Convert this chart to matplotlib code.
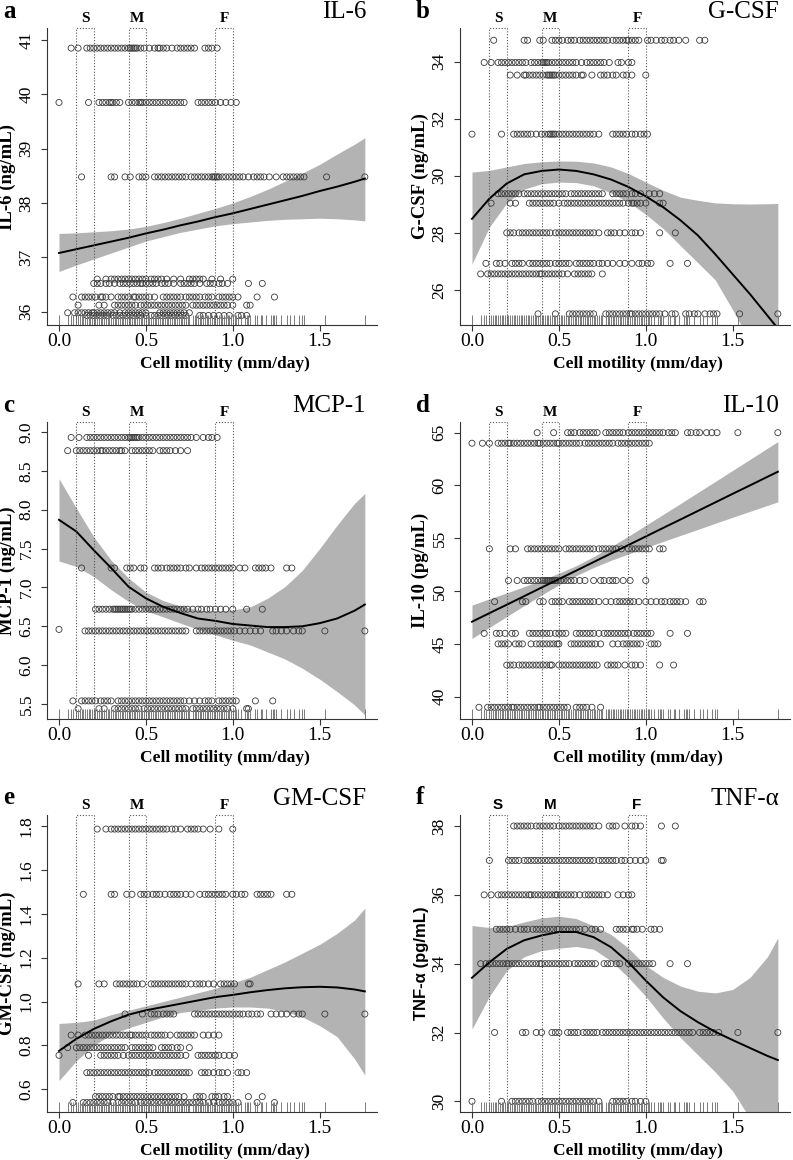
import numpy as np
import matplotlib
matplotlib.use('Agg')
import matplotlib.pyplot as plt
import matplotlib.transforms as mtransforms

plt.rcParams['font.family'] = ['Liberation Serif', 'DejaVu Serif']

# measured cell motility values (rug marks along the x axis)
motility = [0.00, 0.05, 0.07, 0.08, 0.10, 0.11, 0.12, 0.13, 0.14, 0.15, 0.16, 0.17, 0.18, 0.19,
            0.20, 0.21, 0.22, 0.23, 0.24, 0.25, 0.26, 0.27, 0.28, 0.29, 0.30, 0.31, 0.32, 0.33,
            0.34, 0.35, 0.36, 0.37, 0.38, 0.39, 0.40, 0.41, 0.42, 0.43, 0.44, 0.45, 0.46, 0.47,
            0.48, 0.49, 0.50, 0.51, 0.52, 0.53, 0.54, 0.55, 0.56, 0.57, 0.58, 0.59, 0.60, 0.61,
            0.62, 0.63, 0.64, 0.65, 0.66, 0.67, 0.68, 0.69, 0.70, 0.71, 0.72, 0.73, 0.74, 0.75,
            0.77, 0.78, 0.79, 0.80, 0.81, 0.82, 0.83, 0.84, 0.85, 0.86, 0.87, 0.88, 0.89, 0.90,
            0.91, 0.92, 0.93, 0.94, 0.95, 0.96, 0.97, 0.98, 0.99, 1.00, 1.01, 1.02, 1.03, 1.05,
            1.07, 1.08, 1.09, 1.10, 1.13, 1.14, 1.16, 1.17, 1.19, 1.22, 1.23, 1.24, 1.25, 1.28,
            1.31, 1.33, 1.35, 1.38, 1.40, 1.41, 1.53, 1.76]

# x positions where the fitted curve and its confidence band were read
fit_x = [0.0, 0.1, 0.2, 0.3, 0.4, 0.5, 0.6, 0.7, 0.8, 0.9, 1.0, 1.1, 1.2, 1.3, 1.4, 1.5, 1.6, 1.7, 1.76]

# motility groups: slow, medium, fast
groups = ['S', 'M', 'F']
group_lo = [0.1, 0.4, 0.9]
group_hi = [0.2, 0.5, 1.0]

# ---- a: IL-6
il6_levels = [40.85, 39.85, 38.48, 36.60, 36.52, 36.27, 36.12, 35.98, 35.93]
il6_x = [
    [0.07, 0.11, 0.16, 0.18, 0.20, 0.22, 0.24, 0.26, 0.28, 0.30, 0.32, 0.34, 0.36, 0.38, 0.40, 0.41,
     0.42, 0.43, 0.44, 0.45, 0.47, 0.49, 0.52, 0.55, 0.57, 0.58, 0.60, 0.62, 0.65, 0.68, 0.70, 0.72,
     0.74, 0.76, 0.78, 0.84, 0.86, 0.88, 0.91],
    [0.00, 0.17, 0.23, 0.25, 0.27, 0.29, 0.30, 0.31, 0.33, 0.35, 0.40, 0.42, 0.44, 0.46, 0.47, 0.48,
     0.50, 0.52, 0.54, 0.56, 0.58, 0.60, 0.62, 0.64, 0.66, 0.68, 0.70, 0.72, 0.80, 0.82, 0.84, 0.86,
     0.88, 0.90, 0.93, 0.96, 0.99, 1.02],
    [0.13, 0.30, 0.32, 0.38, 0.41, 0.46, 0.48, 0.50, 0.55, 0.57, 0.59, 0.61, 0.63, 0.65, 0.67, 0.69,
     0.71, 0.73, 0.76, 0.78, 0.80, 0.82, 0.84, 0.86, 0.88, 0.89, 0.90, 0.91, 0.92, 0.94, 0.96, 0.98,
     1.00, 1.02, 1.04, 1.06, 1.09, 1.12, 1.14, 1.16, 1.18, 1.21, 1.25, 1.29, 1.31, 1.33, 1.35, 1.37,
     1.39, 1.41, 1.54, 1.76],
    [0.22, 0.27, 0.30, 0.32, 0.34, 0.36, 0.38, 0.40, 0.42, 0.44, 0.46, 0.48, 0.50, 0.53, 0.55, 0.57,
     0.59, 0.62, 0.66, 0.70, 0.75, 0.77, 0.79, 0.81, 0.83, 0.88, 0.93, 1.00],
    [0.20, 0.22, 0.24, 0.27, 0.29, 0.32, 0.35, 0.37, 0.39, 0.41, 0.43, 0.45, 0.47, 0.48, 0.50, 0.52,
     0.54, 0.56, 0.59, 0.61, 0.63, 0.66, 0.70, 0.72, 0.74, 0.76, 0.78, 0.81, 0.85, 0.87, 0.89, 0.92,
     0.94, 0.97, 1.09, 1.17],
    [0.08, 0.13, 0.15, 0.17, 0.19, 0.21, 0.24, 0.25, 0.27, 0.30, 0.34, 0.36, 0.38, 0.40, 0.43, 0.44,
     0.46, 0.48, 0.50, 0.52, 0.55, 0.60, 0.62, 0.64, 0.66, 0.68, 0.70, 0.73, 0.75, 0.77, 0.79, 0.81,
     0.84, 0.86, 0.88, 0.92, 0.94, 0.96, 0.98, 1.00, 1.03, 1.14, 1.24],
    [0.11, 0.23, 0.26, 0.32, 0.34, 0.36, 0.38, 0.40, 0.42, 0.44, 0.47, 0.49, 0.51, 0.53, 0.55, 0.57,
     0.59, 0.61, 0.63, 0.65, 0.67, 0.69, 0.71, 0.73, 0.77, 0.79, 0.81, 0.83, 0.85, 0.87, 0.89, 0.91,
     0.93, 0.95, 0.97, 1.00, 1.08, 1.10],
    [0.05, 0.09, 0.11, 0.13, 0.15, 0.17, 0.19, 0.20, 0.22, 0.24, 0.26, 0.28, 0.30, 0.32, 0.35, 0.38,
     0.40, 0.42, 0.44, 0.46, 0.48, 0.50, 0.58, 0.60, 0.62, 0.64, 0.66, 0.68, 0.70, 0.72, 0.75],
    [0.16, 0.18, 0.20, 0.22, 0.24, 0.26, 0.28, 0.31, 0.33, 0.35, 0.37, 0.39, 0.41, 0.43, 0.45, 0.47,
     0.50, 0.53, 0.55, 0.57, 0.59, 0.61, 0.63, 0.65, 0.67, 0.69, 0.71, 0.73, 0.81, 0.83, 0.86, 0.89,
     0.92, 0.95, 0.98, 1.03, 1.05, 1.08],
]
il6_fit = [37.08, 37.15, 37.22, 37.29, 37.36, 37.44, 37.51, 37.59, 37.66, 37.74, 37.81, 37.89, 37.97,
           38.05, 38.13, 38.22, 38.30, 38.39, 38.45]
il6_hi = [37.44, 37.45, 37.47, 37.49, 37.52, 37.57, 37.64, 37.72, 37.81, 37.90, 38.00, 38.12, 38.25,
          38.40, 38.55, 38.71, 38.90, 39.08, 39.20]
il6_lo = [36.74, 36.86, 36.97, 37.08, 37.19, 37.30, 37.38, 37.46, 37.52, 37.58, 37.62, 37.65, 37.68,
          37.70, 37.71, 37.72, 37.71, 37.69, 37.67]

# ---- b: G-CSF
gcsf_levels = [34.75, 33.97, 33.53, 31.46, 29.37, 29.04, 28.0, 26.93, 26.56, 25.16]
gcsf_x = [
    [0.125, 0.30, 0.32, 0.39, 0.41, 0.46, 0.48, 0.50, 0.52, 0.55, 0.57, 0.59, 0.62, 0.64, 0.66, 0.68,
     0.70, 0.72, 0.74, 0.76, 0.78, 0.81, 0.83, 0.85, 0.87, 0.89, 0.90, 0.92, 0.94, 0.96, 1.01, 1.03,
     1.06, 1.09, 1.11, 1.14, 1.16, 1.19, 1.23, 1.31, 1.34],
    [0.07, 0.11, 0.15, 0.17, 0.19, 0.21, 0.23, 0.25, 0.27, 0.29, 0.31, 0.34, 0.36, 0.38, 0.40, 0.41,
     0.42, 0.43, 0.44, 0.46, 0.48, 0.50, 0.52, 0.54, 0.56, 0.58, 0.60, 0.63, 0.66, 0.68, 0.70, 0.72,
     0.74, 0.76, 0.79, 0.84, 0.86, 0.90, 0.92],
    [0.22, 0.26, 0.30, 0.31, 0.33, 0.35, 0.37, 0.39, 0.41, 0.43, 0.44, 0.45, 0.46, 0.47, 0.48, 0.50,
     0.52, 0.54, 0.56, 0.58, 0.60, 0.63, 0.64, 0.69, 0.74, 0.76, 0.78, 0.81, 0.83, 0.87, 0.89, 0.92,
     1.00],
    [0.00, 0.17, 0.24, 0.26, 0.28, 0.30, 0.32, 0.34, 0.37, 0.40, 0.42, 0.44, 0.45, 0.46, 0.47, 0.48,
     0.50, 0.52, 0.54, 0.56, 0.58, 0.60, 0.62, 0.64, 0.66, 0.68, 0.70, 0.73, 0.81, 0.83, 0.85, 0.87,
     0.89, 0.92, 0.94, 0.97, 0.99, 1.01],
    [0.15, 0.17, 0.19, 0.21, 0.23, 0.25, 0.27, 0.30, 0.32, 0.34, 0.36, 0.38, 0.40, 0.42, 0.44, 0.46,
     0.48, 0.50, 0.52, 0.54, 0.57, 0.59, 0.61, 0.63, 0.65, 0.67, 0.69, 0.71, 0.73, 0.75, 0.81, 0.83,
     0.85, 0.87, 0.89, 0.92, 0.94, 0.97, 1.02, 1.05, 1.08],
    [0.11, 0.22, 0.25, 0.33, 0.35, 0.37, 0.39, 0.41, 0.43, 0.45, 0.47, 0.50, 0.53, 0.55, 0.57, 0.59,
     0.61, 0.63, 0.65, 0.67, 0.69, 0.71, 0.73, 0.75, 0.77, 0.79, 0.81, 0.83, 0.85, 0.87, 0.90, 0.92,
     0.93, 0.95, 0.97, 1.00, 1.08, 1.10],
    [0.20, 0.22, 0.24, 0.27, 0.29, 0.31, 0.33, 0.35, 0.37, 0.39, 0.41, 0.43, 0.45, 0.48, 0.50, 0.52,
     0.54, 0.56, 0.58, 0.60, 0.62, 0.64, 0.66, 0.68, 0.70, 0.73, 0.78, 0.80, 0.82, 0.85, 0.88, 0.92,
     0.94, 0.97, 1.08, 1.17],
    [0.08, 0.14, 0.16, 0.19, 0.23, 0.25, 0.27, 0.29, 0.33, 0.35, 0.37, 0.39, 0.41, 0.43, 0.45, 0.48,
     0.50, 0.52, 0.54, 0.56, 0.60, 0.62, 0.64, 0.66, 0.68, 0.70, 0.73, 0.75, 0.78, 0.81, 0.85, 0.88,
     0.92, 0.96, 0.98, 1.01, 1.03, 1.14, 1.24],
    [0.05, 0.09, 0.11, 0.13, 0.15, 0.17, 0.19, 0.21, 0.23, 0.25, 0.27, 0.29, 0.31, 0.33, 0.35, 0.37,
     0.39, 0.40, 0.42, 0.44, 0.46, 0.48, 0.50, 0.52, 0.55, 0.59, 0.61, 0.63, 0.65, 0.67, 0.69, 0.75],
    [0.38, 0.48, 0.56, 0.58, 0.60, 0.62, 0.64, 0.66, 0.68, 0.70, 0.77, 0.79, 0.81, 0.83, 0.85, 0.87,
     0.89, 0.91, 0.92, 0.94, 0.96, 0.98, 1.00, 1.02, 1.04, 1.06, 1.08, 1.11, 1.15, 1.17, 1.23, 1.25,
     1.28, 1.30, 1.34, 1.37, 1.39, 1.41, 1.54, 1.76],
]
gcsf_fit = [28.49, 29.20, 29.73, 30.05, 30.17, 30.22, 30.17, 30.05, 29.87, 29.61, 29.28, 28.90, 28.44,
            27.91, 27.25, 26.55, 25.85, 25.10, 24.65]
gcsf_hi = [30.13, 30.19, 30.31, 30.43, 30.49, 30.52, 30.51, 30.45, 30.31, 30.08, 29.78, 29.49, 29.25,
           29.14, 29.05, 29.02, 29.01, 29.02, 29.03]
gcsf_lo = [26.91, 28.20, 29.04, 29.53, 29.72, 29.78, 29.76, 29.65, 29.40, 29.08, 28.65, 28.15, 27.55,
           26.95, 26.35, 25.30, 24.20, 23.00, 22.20]

# ---- c: MCP-1
mcp1_levels = [8.93, 8.76, 7.25, 6.72, 6.46, 6.44, 5.54, 5.44]
mcp1_x = [
    [0.07, 0.115, 0.16, 0.18, 0.20, 0.22, 0.24, 0.26, 0.28, 0.30, 0.32, 0.34, 0.36, 0.38, 0.40, 0.41,
     0.42, 0.43, 0.44, 0.45, 0.46, 0.48, 0.50, 0.52, 0.54, 0.56, 0.58, 0.60, 0.62, 0.64, 0.66, 0.68,
     0.70, 0.72, 0.74, 0.76, 0.79, 0.83, 0.86, 0.88, 0.91],
    [0.05, 0.10, 0.12, 0.14, 0.16, 0.18, 0.20, 0.22, 0.24, 0.25, 0.27, 0.29, 0.31, 0.33, 0.35, 0.36,
     0.38, 0.42, 0.44, 0.46, 0.48, 0.50, 0.52, 0.54, 0.58, 0.60, 0.62, 0.64, 0.67, 0.70, 0.74],
    [0.13, 0.30, 0.32, 0.39, 0.41, 0.43, 0.47, 0.49, 0.55, 0.57, 0.59, 0.62, 0.64, 0.66, 0.68, 0.70,
     0.73, 0.75, 0.79, 0.82, 0.84, 0.86, 0.88, 0.90, 0.92, 0.94, 0.96, 0.98, 1.00, 1.04, 1.07, 1.13,
     1.15, 1.17, 1.19, 1.22, 1.31, 1.34],
    [0.21, 0.23, 0.25, 0.27, 0.29, 0.31, 0.32, 0.33, 0.34, 0.35, 0.36, 0.37, 0.38, 0.39, 0.40, 0.41,
     0.42, 0.44, 0.46, 0.48, 0.50, 0.52, 0.54, 0.56, 0.58, 0.60, 0.62, 0.64, 0.66, 0.68, 0.70, 0.72,
     0.74, 0.77, 0.80, 0.82, 0.85, 0.87, 0.90, 0.93, 0.96, 1.00, 1.08, 1.17],
    [0.00],
    [0.15, 0.17, 0.19, 0.21, 0.23, 0.25, 0.27, 0.29, 0.31, 0.33, 0.35, 0.37, 0.39, 0.41, 0.43, 0.45,
     0.47, 0.49, 0.51, 0.53, 0.55, 0.57, 0.59, 0.61, 0.63, 0.65, 0.67, 0.69, 0.71, 0.73, 0.79, 0.81,
     0.83, 0.85, 0.87, 0.89, 0.91, 0.93, 0.95, 0.97, 0.99, 1.01, 1.04, 1.07, 1.10, 1.13, 1.16, 1.23,
     1.25, 1.28, 1.31, 1.35, 1.38, 1.40, 1.53, 1.76],
    [0.08, 0.13, 0.15, 0.17, 0.19, 0.21, 0.24, 0.26, 0.28, 0.30, 0.34, 0.36, 0.38, 0.40, 0.42, 0.44,
     0.46, 0.48, 0.50, 0.52, 0.54, 0.56, 0.58, 0.60, 0.62, 0.64, 0.66, 0.68, 0.70, 0.72, 0.75, 0.78,
     0.81, 0.84, 0.86, 0.88, 0.92, 0.94, 0.96, 0.98, 1.00, 1.02, 1.13, 1.23],
    [0.11, 0.23, 0.26, 0.32, 0.34, 0.36, 0.38, 0.40, 0.42, 0.44, 0.46, 0.49, 0.51, 0.53, 0.55, 0.57,
     0.59, 0.61, 0.63, 0.65, 0.67, 0.69, 0.71, 0.73, 0.77, 0.79, 0.81, 0.83, 0.85, 0.87, 0.89, 0.91,
     0.93, 0.95, 0.97, 1.00, 1.08, 1.09],
]
mcp1_fit = [7.87, 7.72, 7.48, 7.25, 7.01, 6.86, 6.75, 6.67, 6.60, 6.57, 6.53, 6.51, 6.49, 6.49, 6.50,
            6.54, 6.60, 6.70, 6.78]
mcp1_hi = [8.40, 8.02, 7.65, 7.35, 7.12, 6.94, 6.83, 6.76, 6.71, 6.69, 6.71, 6.75, 6.86, 7.01, 7.22,
           7.50, 7.80, 8.08, 8.21]
mcp1_lo = [7.34, 7.27, 7.14, 6.97, 6.82, 6.70, 6.62, 6.54, 6.46, 6.39, 6.32, 6.26, 6.17, 6.08, 5.96,
           5.82, 5.66, 5.49, 5.36]

# ---- d: IL-10
il10_levels = [65, 64, 54, 51, 49, 46, 45, 43, 39]
il10_x = [
    [0.375, 0.47, 0.55, 0.57, 0.59, 0.62, 0.64, 0.66, 0.68, 0.70, 0.72, 0.77, 0.79, 0.81, 0.83, 0.85,
     0.87, 0.90, 0.92, 0.94, 0.96, 0.98, 1.00, 1.02, 1.04, 1.06, 1.08, 1.10, 1.13, 1.15, 1.17, 1.24,
     1.26, 1.29, 1.31, 1.35, 1.38, 1.41, 1.53, 1.76],
    [0.00, 0.06, 0.10, 0.15, 0.17, 0.19, 0.21, 0.22, 0.24, 0.26, 0.28, 0.30, 0.32, 0.34, 0.36, 0.38,
     0.39, 0.41, 0.43, 0.45, 0.47, 0.49, 0.50, 0.52, 0.54, 0.56, 0.58, 0.60, 0.62, 0.65, 0.67, 0.69,
     0.71, 0.73, 0.75, 0.77, 0.79, 0.81, 0.84, 0.86, 0.88, 0.90, 0.92, 0.94, 0.96, 0.98, 1.00, 1.02],
    [0.10, 0.22, 0.25, 0.32, 0.34, 0.36, 0.38, 0.40, 0.42, 0.44, 0.46, 0.48, 0.50, 0.54, 0.56, 0.58,
     0.60, 0.62, 0.64, 0.66, 0.68, 0.70, 0.73, 0.75, 0.77, 0.79, 0.81, 0.83, 0.86, 0.90, 0.92, 0.94,
     0.96, 0.98, 1.00, 1.02, 1.08, 1.10],
    [0.21, 0.26, 0.30, 0.32, 0.34, 0.36, 0.38, 0.40, 0.41, 0.42, 0.43, 0.44, 0.45, 0.46, 0.47, 0.48,
     0.49, 0.51, 0.53, 0.55, 0.57, 0.59, 0.62, 0.65, 0.70, 0.74, 0.76, 0.79, 0.81, 0.83, 0.87, 0.91,
     1.00],
    [0.13, 0.29, 0.31, 0.39, 0.41, 0.46, 0.48, 0.50, 0.52, 0.56, 0.58, 0.60, 0.62, 0.64, 0.66, 0.68,
     0.70, 0.73, 0.77, 0.80, 0.83, 0.85, 0.87, 0.89, 0.91, 0.93, 0.96, 1.00, 1.03, 1.06, 1.09, 1.11,
     1.14, 1.16, 1.18, 1.20, 1.23, 1.31, 1.33],
    [0.07, 0.14, 0.16, 0.19, 0.23, 0.25, 0.33, 0.35, 0.37, 0.39, 0.41, 0.43, 0.45, 0.48, 0.50, 0.52,
     0.54, 0.60, 0.62, 0.64, 0.66, 0.68, 0.70, 0.73, 0.76, 0.78, 0.80, 0.82, 0.84, 0.86, 0.88, 0.90,
     0.93, 0.95, 0.97, 0.99, 1.01, 1.03, 1.14, 1.24],
    [0.15, 0.17, 0.19, 0.21, 0.25, 0.27, 0.29, 0.34, 0.37, 0.39, 0.41, 0.43, 0.45, 0.47, 0.49, 0.50,
     0.57, 0.59, 0.61, 0.63, 0.65, 0.67, 0.69, 0.71, 0.74, 0.81, 0.84, 0.87, 0.89, 0.91, 0.93, 0.95,
     0.97, 1.03, 1.05, 1.07],
    [0.20, 0.22, 0.24, 0.27, 0.29, 0.31, 0.33, 0.35, 0.37, 0.39, 0.41, 0.43, 0.45, 0.46, 0.50, 0.52,
     0.54, 0.56, 0.58, 0.60, 0.62, 0.64, 0.66, 0.68, 0.70, 0.72, 0.78, 0.80, 0.82, 0.84, 0.88, 0.92,
     0.94, 0.97, 1.08, 1.16],
    [0.04, 0.09, 0.11, 0.13, 0.15, 0.17, 0.19, 0.21, 0.23, 0.24, 0.26, 0.28, 0.30, 0.32, 0.34, 0.36,
     0.38, 0.39, 0.41, 0.43, 0.45, 0.47, 0.49, 0.51, 0.53, 0.55, 0.60, 0.62, 0.64, 0.66, 0.69, 0.74],
]
il10_fit = [47.10, 47.91, 48.71, 49.52, 50.33, 51.14, 51.94, 52.75, 53.56, 54.36, 55.17, 55.98, 56.78,
            57.59, 58.40, 59.21, 60.01, 60.82, 61.30]
il10_hi = [48.68, 49.26, 49.83, 50.42, 51.04, 51.69, 52.41, 53.26, 54.21, 55.20, 56.23, 57.26, 58.29,
           59.34, 60.38, 61.43, 62.47, 63.53, 64.15]
il10_lo = [45.52, 46.56, 47.59, 48.62, 49.62, 50.59, 51.47, 52.24, 52.91, 53.52, 54.11, 54.70, 55.27,
           55.84, 56.42, 56.99, 57.55, 58.11, 58.45]

# ---- e: GM-CSF
gmcsf_levels = [1.785, 1.488, 1.08, 0.943, 0.847, 0.79, 0.755, 0.676, 0.567, 0.54]
gmcsf_x = [
    [0.22, 0.27, 0.30, 0.32, 0.34, 0.36, 0.38, 0.40, 0.42, 0.44, 0.46, 0.48, 0.50, 0.52, 0.54, 0.56,
     0.58, 0.60, 0.62, 0.65, 0.67, 0.70, 0.74, 0.76, 0.78, 0.80, 0.83, 0.87, 0.92, 1.00],
    [0.14, 0.30, 0.32, 0.39, 0.42, 0.47, 0.49, 0.51, 0.54, 0.56, 0.58, 0.61, 0.64, 0.66, 0.68, 0.70,
     0.73, 0.76, 0.81, 0.84, 0.86, 0.88, 0.90, 0.92, 0.94, 0.96, 1.00, 1.02, 1.05, 1.07, 1.14, 1.16,
     1.18, 1.20, 1.22, 1.31, 1.34],
    [0.11, 0.23, 0.26, 0.33, 0.35, 0.37, 0.39, 0.41, 0.43, 0.45, 0.48, 0.53, 0.55, 0.57, 0.59, 0.61,
     0.63, 0.65, 0.67, 0.69, 0.71, 0.73, 0.76, 0.79, 0.81, 0.83, 0.86, 0.89, 0.93, 0.95, 0.97, 0.99,
     1.01, 1.09, 1.10],
    [0.38, 0.48, 0.53, 0.55, 0.57, 0.60, 0.62, 0.64, 0.66, 0.78, 0.80, 0.82, 0.84, 0.86, 0.88, 0.90,
     0.92, 0.94, 0.96, 0.98, 1.00, 1.02, 1.04, 1.06, 1.09, 1.11, 1.14, 1.16, 1.22, 1.25, 1.28, 1.31,
     1.35, 1.38, 1.40, 1.53, 1.76],
    [0.07, 0.11, 0.15, 0.17, 0.19, 0.21, 0.23, 0.25, 0.27, 0.29, 0.31, 0.33, 0.35, 0.37, 0.39, 0.41,
     0.42, 0.44, 0.46, 0.48, 0.50, 0.53, 0.55, 0.57, 0.59, 0.61, 0.64, 0.68, 0.70, 0.72, 0.74, 0.76,
     0.78, 0.83, 0.86, 0.89, 0.92],
    [0.05, 0.10, 0.12, 0.14, 0.16, 0.18, 0.20, 0.22, 0.24, 0.26, 0.28, 0.30, 0.32, 0.34, 0.36, 0.38,
     0.42, 0.44, 0.46, 0.48, 0.50, 0.52, 0.54, 0.59, 0.61, 0.63, 0.65, 0.68, 0.70, 0.75],
    [0.00, 0.17, 0.24, 0.26, 0.28, 0.30, 0.32, 0.34, 0.37, 0.40, 0.42, 0.44, 0.46, 0.48, 0.50, 0.52,
     0.54, 0.56, 0.58, 0.60, 0.62, 0.64, 0.66, 0.68, 0.70, 0.73, 0.80, 0.82, 0.84, 0.86, 0.88, 0.90,
     0.92, 0.95, 0.98, 1.01],
    [0.16, 0.18, 0.20, 0.22, 0.24, 0.26, 0.28, 0.30, 0.32, 0.34, 0.36, 0.38, 0.40, 0.42, 0.44, 0.46,
     0.48, 0.50, 0.52, 0.55, 0.57, 0.59, 0.61, 0.63, 0.65, 0.67, 0.69, 0.71, 0.73, 0.75, 0.82, 0.84,
     0.86, 0.89, 0.92, 0.94, 0.97, 1.03, 1.05, 1.08],
    [0.21, 0.23, 0.25, 0.27, 0.29, 0.31, 0.34, 0.35, 0.37, 0.39, 0.41, 0.43, 0.45, 0.47, 0.49, 0.51,
     0.53, 0.55, 0.57, 0.59, 0.61, 0.63, 0.65, 0.67, 0.69, 0.72, 0.79, 0.81, 0.83, 0.88, 0.90, 0.92,
     0.95, 0.97, 1.09, 1.17],
    [0.08, 0.14, 0.16, 0.18, 0.20, 0.22, 0.24, 0.26, 0.28, 0.31, 0.34, 0.36, 0.38, 0.40, 0.42, 0.44,
     0.47, 0.49, 0.51, 0.53, 0.55, 0.57, 0.59, 0.61, 0.63, 0.65, 0.67, 0.69, 0.71, 0.73, 0.75, 0.77,
     0.79, 0.81, 0.83, 0.86, 0.89, 0.92, 0.94, 0.96, 0.98, 1.00, 1.03, 1.14, 1.24],
]
gmcsf_fit = [0.775, 0.83, 0.875, 0.91, 0.94, 0.96, 0.975, 0.99, 1.005, 1.02, 1.03, 1.042, 1.052, 1.06,
             1.065, 1.067, 1.064, 1.055, 1.046]
gmcsf_hi = [0.90, 0.905, 0.915, 0.94, 0.96, 0.98, 1.00, 1.02, 1.04, 1.06, 1.085, 1.11, 1.145, 1.18,
            1.22, 1.26, 1.31, 1.37, 1.425]
gmcsf_lo = [0.64, 0.73, 0.80, 0.85, 0.88, 0.905, 0.93, 0.95, 0.96, 0.97, 0.975, 0.975, 0.97, 0.955,
            0.93, 0.89, 0.84, 0.74, 0.665]

# ---- f: TNF-alpha
tnf_levels = [38, 37, 36, 35, 34, 32, 30]
tnf_x = [
    [0.24, 0.26, 0.28, 0.30, 0.32, 0.34, 0.37, 0.39, 0.41, 0.43, 0.45, 0.47, 0.50, 0.52, 0.54, 0.56,
     0.58, 0.60, 0.62, 0.64, 0.66, 0.68, 0.70, 0.73, 0.79, 0.81, 0.83, 0.88, 0.92, 0.94, 0.97, 1.09,
     1.17],
    [0.10, 0.21, 0.23, 0.25, 0.27, 0.30, 0.32, 0.34, 0.36, 0.38, 0.40, 0.42, 0.44, 0.46, 0.48, 0.50,
     0.52, 0.54, 0.56, 0.58, 0.60, 0.62, 0.64, 0.66, 0.68, 0.70, 0.73, 0.75, 0.77, 0.79, 0.81, 0.83,
     0.86, 0.88, 0.91, 0.94, 0.97, 1.00, 1.09, 1.10],
    [0.07, 0.11, 0.15, 0.17, 0.19, 0.21, 0.23, 0.25, 0.27, 0.29, 0.31, 0.33, 0.34, 0.36, 0.38, 0.40,
     0.42, 0.44, 0.46, 0.48, 0.49, 0.51, 0.53, 0.55, 0.57, 0.59, 0.62, 0.65, 0.67, 0.69, 0.71, 0.73,
     0.75, 0.78, 0.84, 0.87, 0.90, 0.92],
    [0.14, 0.16, 0.18, 0.20, 0.22, 0.25, 0.28, 0.30, 0.32, 0.35, 0.37, 0.39, 0.41, 0.43, 0.45, 0.47,
     0.49, 0.50, 0.52, 0.54, 0.56, 0.58, 0.60, 0.62, 0.65, 0.69, 0.71, 0.74, 0.83, 0.85, 0.87, 0.89,
     0.92, 0.93, 0.95, 0.98, 1.03, 1.05, 1.08],
    [0.05, 0.08, 0.10, 0.12, 0.14, 0.16, 0.18, 0.20, 0.21, 0.23, 0.25, 0.27, 0.29, 0.31, 0.33, 0.35,
     0.37, 0.39, 0.40, 0.42, 0.44, 0.46, 0.48, 0.50, 0.52, 0.54, 0.56, 0.59, 0.61, 0.63, 0.65, 0.67,
     0.69, 0.71, 0.76, 0.78, 0.80, 0.83, 0.85, 0.90, 0.92, 0.94, 0.96, 0.98, 1.00, 1.02, 1.04, 1.14,
     1.24],
    [0.13, 0.29, 0.31, 0.37, 0.40, 0.46, 0.48, 0.50, 0.55, 0.57, 0.59, 0.61, 0.64, 0.66, 0.68, 0.70,
     0.72, 0.75, 0.77, 0.79, 0.81, 0.83, 0.85, 0.87, 0.89, 0.91, 0.93, 0.95, 0.97, 0.99, 1.01, 1.03,
     1.05, 1.07, 1.09, 1.11, 1.13, 1.15, 1.17, 1.19, 1.21, 1.23, 1.25, 1.27, 1.31, 1.33, 1.35, 1.37,
     1.39, 1.42, 1.53, 1.76],
    [0.00, 0.17, 0.23, 0.25, 0.27, 0.29, 0.31, 0.33, 0.35, 0.38, 0.40, 0.42, 0.44, 0.46, 0.48, 0.50,
     0.52, 0.54, 0.56, 0.58, 0.60, 0.62, 0.64, 0.66, 0.68, 0.70, 0.73, 0.81, 0.83, 0.85, 0.87, 0.89,
     0.92, 0.94, 0.97, 1.00],
]
tnf_fit = [33.59, 34.04, 34.43, 34.68, 34.82, 34.92, 34.92, 34.77, 34.48, 34.04, 33.51, 33.02, 32.62,
           32.30, 32.02, 31.78, 31.55, 31.32, 31.20]
tnf_hi = [35.11, 35.05, 35.08, 35.21, 35.33, 35.38, 35.31, 35.10, 34.85, 34.45, 33.95, 33.60, 33.35,
          33.20, 33.15, 33.25, 33.60, 34.20, 34.75]
tnf_lo = [32.10, 33.05, 33.80, 34.20, 34.38, 34.45, 34.50, 34.42, 34.08, 33.60, 33.05, 32.42, 31.85,
          31.35, 30.85, 30.30, 29.50, 28.45, 27.70]

panels = [
    dict(letter='a', title='IL-6', ylabel='IL-6 (ng/mL)', levels=il6_levels, xs=il6_x,
         fit=il6_fit, hi=il6_hi, lo=il6_lo, ylim=(35.755, 41.22),
         yticks=[36, 37, 38, 39, 40, 41], fmt='%d', sans=False),
    dict(letter='b', title='G-CSF', ylabel='G-CSF (ng/mL)', levels=gcsf_levels, xs=gcsf_x,
         fit=gcsf_fit, hi=gcsf_hi, lo=gcsf_lo, ylim=(24.77, 35.18),
         yticks=[26, 28, 30, 32, 34], fmt='%d', sans=False),
    dict(letter='c', title='MCP-1', ylabel='MCP-1 (ng/mL)', levels=mcp1_levels, xs=mcp1_x,
         fit=mcp1_fit, hi=mcp1_hi, lo=mcp1_lo, ylim=(5.307, 9.129),
         yticks=[5.5, 6.0, 6.5, 7.0, 7.5, 8.0, 8.5, 9.0], fmt='%.1f', sans=False),
    dict(letter='d', title='IL-10', ylabel='IL-10 (pg/mL)', levels=il10_levels, xs=il10_x,
         fit=il10_fit, hi=il10_hi, lo=il10_lo, ylim=(37.89, 66.01),
         yticks=[40, 45, 50, 55, 60, 65], fmt='%d', sans=False),
    dict(letter='e', title='GM-CSF', ylabel='GM-CSF (ng/mL)', levels=gmcsf_levels, xs=gmcsf_x,
         fit=gmcsf_fit, hi=gmcsf_hi, lo=gmcsf_lo, ylim=(0.497, 1.849),
         yticks=[0.6, 0.8, 1.0, 1.2, 1.4, 1.6, 1.8], fmt='%.1f', sans=False),
    dict(letter='f', title='TNF-α', ylabel='TNF-α (pg/mL)', levels=tnf_levels, xs=tnf_x,
         fit=tnf_fit, hi=tnf_hi, lo=tnf_lo, ylim=(29.69, 38.32),
         yticks=[30, 32, 34, 36, 38], fmt='%d', sans=True),
]

W, H = 793, 1160
col_left = [47, 460]
row_top = [28, 422, 815]
ax_w, ax_h = 330, 297

fig = plt.figure(figsize=(W / 100, H / 100), dpi=100)
fig.patch.set_facecolor('white')

for i, p in enumerate(panels):
    left = col_left[i % 2]
    top = row_top[i // 2]
    ax = fig.add_axes([left / W, 1 - (top + ax_h) / H, ax_w / W, ax_h / H])

    # confidence band and fitted curve
    ax.fill_between(fit_x, p['lo'], p['hi'], color='#b3b3b3', lw=0, zorder=1)
    ax.plot(fit_x, p['fit'], color='black', lw=1.4, zorder=3)

    # observations, one row per measured level
    for yv, xs in zip(p['levels'], p['xs']):
        ax.scatter(xs, [yv] * len(xs), s=19, facecolors='none', edgecolors='#3a3a3a',
                   linewidths=0.6, zorder=2)

    # rug
    ax.vlines(motility, 0, 0.032, transform=ax.get_xaxis_transform(),
              colors='#7a7a7a', lw=0.7, zorder=2)

    ax.set_xlim(-0.069, 1.83)
    ax.set_ylim(*p['ylim'])
    y0, y1 = p['ylim']

    # S / M / F dotted boxes
    fam = ['Liberation Sans', 'DejaVu Sans'] if p['sans'] else ['Liberation Serif', 'DejaVu Serif']
    trans = mtransforms.blended_transform_factory(ax.transData, ax.transAxes)
    for g, gx0, gx1 in zip(groups, group_lo, group_hi):
        ax.plot([gx0, gx0, gx1, gx1], [y0, y1, y1, y0], ls=(0, (1, 1.6)), color='#555555',
                lw=0.8, clip_on=False, zorder=4)
        ax.text((gx0 + gx1) / 2, 1 + 3 / ax_h, g, transform=trans, ha='center', va='bottom',
                fontsize=11, fontweight='bold', family=fam)

    for side in ['top', 'right']:
        ax.spines[side].set_visible(False)
    for side in ['left', 'bottom']:
        ax.spines[side].set_linewidth(0.8)
        ax.spines[side].set_color('#333333')

    ax.set_xticks([0.0, 0.5, 1.0, 1.5])
    ax.set_xticklabels(['0.0', '0.5', '1.0', '1.5'])
    ax.set_yticks(p['yticks'])
    ax.set_yticklabels([p['fmt'] % v for v in p['yticks']], rotation=90, va='center')
    ax.tick_params(axis='both', direction='out', length=4, width=0.8, color='#333333')
    ax.tick_params(axis='x', labelsize=14, pad=1.5)
    ax.tick_params(axis='y', labelsize=12.5, pad=5)

    ax.set_xlabel('Cell motility (mm/day)', fontsize=12.5, fontweight='bold')
    ax.xaxis.set_label_coords(0.54, -0.104)
    if p['sans']:
        ax.set_ylabel(p['ylabel'], fontsize=12, fontweight='bold', family=fam)
    else:
        ax.set_ylabel(p['ylabel'], fontsize=13.5, fontweight='bold')
    ax.yaxis.set_label_coords(-0.094, 0.5)

    ax.text(1 - 11 / ax_w, 1 + 10 / ax_h, p['title'], transform=ax.transAxes,
            ha='right', va='baseline', fontsize=18)
    fig.text((left - 44) / W, 1 - (top - 17) / H, p['letter'], ha='left', va='center',
             fontsize=18, fontweight='bold')

fig.savefig('out.png', dpi=100, facecolor='white')
